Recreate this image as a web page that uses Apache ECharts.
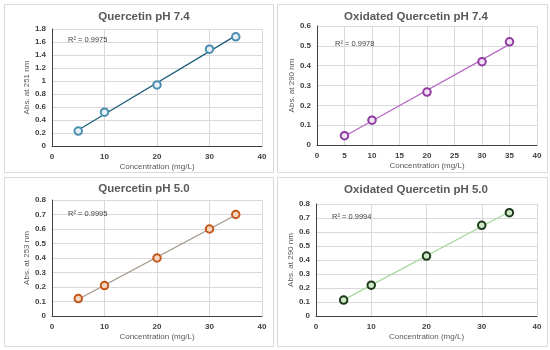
<!DOCTYPE html>
<html>
<head>
<meta charset="utf-8">
<script src="https://cdn.jsdelivr.net/npm/echarts@6/dist/echarts.min.js"></script>
<style>html,body{margin:0;padding:0;background:#fff}#c{width:550px;height:350px}</style>
</head>
<body>
<div id="c"></div>
<script>
const concentrations = [5, 10, 20, 30, 35];
const quercetin74 = [0.23, 0.52, 0.94, 1.49, 1.68];
const oxQuercetin74 = [0.047, 0.125, 0.267, 0.42, 0.52];
const quercetin50 = [0.12, 0.21, 0.40, 0.60, 0.70];
const oxQuercetin50 = [0.114, 0.22, 0.428, 0.648, 0.738];
const titles = ['Quercetin pH 7.4', 'Oxidated Quercetin pH 7.4', 'Quercetin pH 5.0', 'Oxidated Quercetin pH 5.0'];
const yNames = ['Abs. at 251 nm', 'Abs. at 290 nm', 'Abs. at 253 nm', 'Abs. at 290 nm'];
const r2Labels = ['R² = 0.9975', 'R² = 0.9978', 'R² = 0.9995', 'R² = 0.9994'];
const yMax = [1.8, 0.6, 0.8, 0.8];
const yStep = [0.2, 0.1, 0.1, 0.1];
const xStep = [10, 5, 10, 10];
const xMax = 40;

const seriesValues = [quercetin74, oxQuercetin74, quercetin50, oxQuercetin50];

const grids = [
  {left: 52, top: 29, width: 210, height: 117},
  {left: 317, top: 26, width: 220, height: 119},
  {left: 52, top: 200, width: 210, height: 116},
  {left: 316, top: 204, width: 221, height: 112}
];
const panels = [
  {x: 4, y: 4, w: 269, h: 168},
  {x: 277, y: 4, w: 270, h: 168},
  {x: 4, y: 177, w: 269, h: 169},
  {x: 277, y: 177, w: 270, h: 169}
];
const titlePos = [[139, 6], [411, 6], [139, 178], [411, 179]];
const r2Pos = [[68, 40], [335, 44], [68, 214], [332, 217]];
const styles = [
  {line: '#1f5f7c', border: '#4a8db0', fill: '#e4f0f6'},
  {line: '#b86ac6', border: '#8e3c9e', fill: '#f3e2f6'},
  {line: '#a3968a', border: '#c4561c', fill: '#f6d6bd'},
  {line: '#a6d99c', border: '#1e3a1c', fill: '#cfe9c6'}
];

function fit(xs, ys) {
  const n = xs.length;
  let sx = 0, sy = 0, sxx = 0, sxy = 0;
  for (let i = 0; i < n; i++) { sx += xs[i]; sy += ys[i]; sxx += xs[i] * xs[i]; sxy += xs[i] * ys[i]; }
  const b = (n * sxy - sx * sy) / (n * sxx - sx * sx);
  const a = (sy - b * sx) / n;
  return x => a + b * x;
}

const xAxis = [], yAxis = [], series = [], title = [], graphic = [];
grids.forEach((g, i) => {
  xAxis.push({
    type: 'value', gridIndex: i, min: 0, max: xMax, interval: xStep[i],
    name: 'Concentration (mg/L)', nameLocation: 'middle', nameGap: 17,
    nameTextStyle: {fontSize: 8, color: '#595959', fontFamily: 'Liberation Sans'},
    axisLine: {show: true, lineStyle: {color: '#404040', width: 1}},
    axisTick: {show: false},
    axisLabel: {fontSize: 8, fontWeight: 'bold', color: '#404040', margin: 7, fontFamily: 'Liberation Sans'},
    splitLine: {show: true, lineStyle: {color: '#d9d9d9', width: 1}}
  });
  yAxis.push({
    type: 'value', gridIndex: i, min: 0, max: yMax[i], interval: yStep[i],
    name: yNames[i], nameLocation: 'middle', nameGap: 17, nameRotate: 90,
    nameTextStyle: {fontSize: 8, color: '#595959', fontFamily: 'Liberation Sans'},
    axisLine: {show: true, lineStyle: {color: '#404040', width: 1}},
    axisTick: {show: false},
    axisLabel: {fontSize: 8, fontWeight: 'bold', color: '#404040', margin: 6, fontFamily: 'Liberation Sans',
      formatter: v => String(Math.round(v * 10) / 10)},
    splitLine: {show: true, lineStyle: {color: '#d9d9d9', width: 1}}
  });
  const ys = seriesValues[i];
  const f = fit(concentrations, ys);
  const x0 = concentrations[0], x1 = concentrations[concentrations.length - 1];
  series.push({
    type: 'line', xAxisIndex: i, yAxisIndex: i, data: [[x0, f(x0)], [x1, f(x1)]],
    showSymbol: false, symbol: 'none', lineStyle: {color: styles[i].line, width: 1.3}, z: 2, silent: true
  });
  series.push({
    type: 'scatter', xAxisIndex: i, yAxisIndex: i,
    data: concentrations.map((c, k) => [c, ys[k]]),
    symbol: 'circle', symbolSize: 7.5,
    itemStyle: {color: styles[i].fill, borderColor: styles[i].border, borderWidth: 2, opacity: 1}, z: 3
  });
  title.push({
    text: titles[i], left: titlePos[i][0], top: titlePos[i][1], textAlign: 'center',
    textStyle: {fontSize: 11.5, fontWeight: 'bold', color: '#595959', fontFamily: 'Liberation Sans'}
  });
  graphic.push({
    type: 'rect', shape: {x: panels[i].x + 0.5, y: panels[i].y + 0.5, width: panels[i].w, height: panels[i].h},
    style: {fill: 'none', stroke: '#d9d9d9', lineWidth: 1}, z: -1
  });
  graphic.push({
    type: 'text', x: r2Pos[i][0], y: r2Pos[i][1],
    style: {text: r2Labels[i], fontSize: 7.5, fill: '#404040', fontFamily: 'Liberation Sans', verticalAlign: 'middle'}, z: 10
  });
});

const chart = echarts.init(document.getElementById('c'), null, {renderer: 'canvas'});
chart.setOption({
  animation: false,
  backgroundColor: '#ffffff',
  title, grid: grids, xAxis, yAxis, series, graphic
});
</script>
</body>
</html>
